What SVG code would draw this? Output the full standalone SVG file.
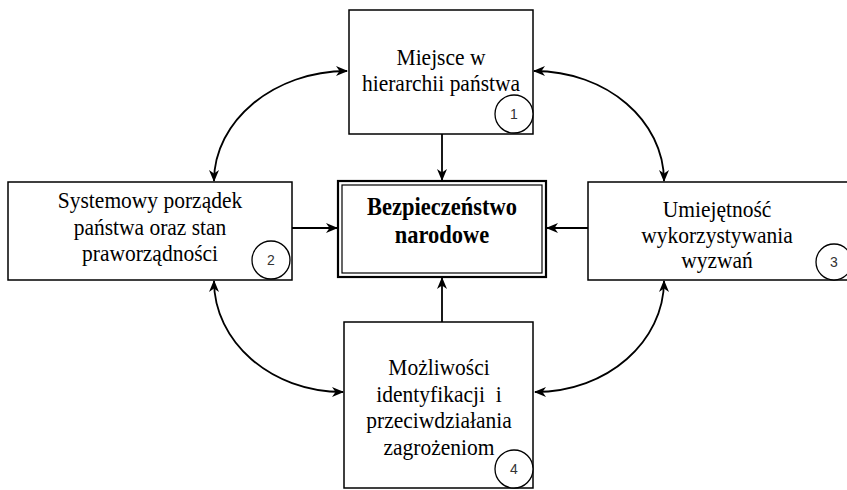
<svg xmlns="http://www.w3.org/2000/svg" width="847" height="490" viewBox="0 0 847 490">
  <style>
    .box { fill: #ffffff; stroke: #000000; stroke-width: 1.5; }
    .badge { fill: #ffffff; stroke: #000000; stroke-width: 1.3; }
    .lbl { font-family: "Liberation Serif", "Times New Roman", serif; font-size: 21.5px; fill: #000000; text-anchor: middle; }
    .title { font-family: "Liberation Serif", "Times New Roman", serif; font-size: 22.5px; font-weight: bold; fill: #000000; text-anchor: middle; }
    .num { font-family: "Liberation Sans Narrow", "Liberation Sans", Arial, sans-serif; font-size: 14px; fill: #333333; text-anchor: middle; }
    .link { fill: none; stroke: #000000; stroke-width: 1.8; }
  </style>
  <defs>
    <marker id="arrow" viewBox="0 0 12 10" refX="11" refY="5" markerWidth="12" markerHeight="10" markerUnits="userSpaceOnUse" orient="auto-start-reverse">
      <path d="M0,0 L12,5 L0,10 L3.5,5 z" fill="#000000"/>
    </marker>
  </defs>

  <rect width="847" height="490" fill="#ffffff"/>

  <!-- connectors -->
  <g id="connectors">
    <line class="link" x1="442" y1="134" x2="442" y2="180" marker-end="url(#arrow)"/>
    <line class="link" x1="292" y1="228" x2="337" y2="228" marker-end="url(#arrow)"/>
    <line class="link" x1="588" y1="228" x2="547" y2="228" marker-end="url(#arrow)"/>
    <line class="link" x1="442" y1="322" x2="442" y2="278" marker-end="url(#arrow)"/>
    <path class="link" d="M347,71 C274,71 214,121 214,181" marker-start="url(#arrow)" marker-end="url(#arrow)"/>
    <path class="link" d="M534,71 C607,71 664,121 664,181" marker-start="url(#arrow)" marker-end="url(#arrow)"/>
    <path class="link" d="M214,281 C214,341 270,392 343,392" marker-start="url(#arrow)" marker-end="url(#arrow)"/>
    <path class="link" d="M664,281 C664,341 608,392 535,392" marker-start="url(#arrow)" marker-end="url(#arrow)"/>
  </g>

  <!-- node 1 -->
  <g id="node1">
    <rect class="box" x="349" y="10" width="184" height="124"/>
    <text class="lbl" transform="translate(441,65) scale(1,1.08)">Miejsce w</text>
    <text class="lbl" transform="translate(441,91) scale(1,1.08)">hierarchii państwa</text>
    <circle class="badge" cx="514" cy="114" r="19"/>
    <text class="num" x="514" y="119">1</text>
  </g>

  <!-- node 2 -->
  <g id="node2">
    <rect class="box" x="8" y="182" width="284" height="98"/>
    <text class="lbl" transform="translate(150,208) scale(1,1.08)">Systemowy porządek</text>
    <text class="lbl" transform="translate(150,235) scale(1,1.08)">państwa oraz stan</text>
    <text class="lbl" transform="translate(150,261) scale(1,1.08)">praworządności</text>
    <circle class="badge" cx="271" cy="260" r="19"/>
    <text class="num" x="271" y="265">2</text>
  </g>

  <!-- central node -->
  <g id="center">
    <rect x="338" y="181" width="208" height="96" fill="#ffffff" stroke="#000000" stroke-width="2.2"/>
    <rect x="342" y="185" width="200" height="88" fill="none" stroke="#000000" stroke-width="1.2"/>
    <text class="title" transform="translate(442,215) scale(1,1.12)">Bezpieczeństwo</text>
    <text class="title" transform="translate(442,243) scale(1,1.12)">narodowe</text>
  </g>

  <!-- node 3 -->
  <g id="node3">
    <rect class="box" x="588" y="182" width="266" height="98"/>
    <text class="lbl" transform="translate(717,217) scale(1,1.08)">Umiejętność</text>
    <text class="lbl" transform="translate(717,243) scale(1,1.08)">wykorzystywania</text>
    <text class="lbl" transform="translate(717,268) scale(1,1.08)">wyzwań</text>
    <circle class="badge" cx="834" cy="262" r="18"/>
    <text class="num" x="834" y="267">3</text>
  </g>

  <!-- node 4 -->
  <g id="node4">
    <rect class="box" x="344" y="322" width="189" height="166"/>
    <text class="lbl" transform="translate(439,375) scale(1,1.08)">Możliwości</text>
    <text class="lbl" transform="translate(439,402) scale(1,1.08)" xml:space="preserve">identyfikacji  i</text>
    <text class="lbl" transform="translate(439,428) scale(1,1.08)">przeciwdziałania</text>
    <text class="lbl" transform="translate(439,455) scale(1,1.08)">zagrożeniom</text>
    <circle class="badge" cx="514" cy="469" r="19"/>
    <text class="num" x="514" y="474">4</text>
  </g>
</svg>
